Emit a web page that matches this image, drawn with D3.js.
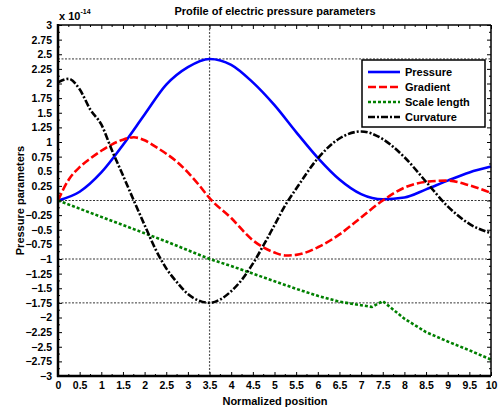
<!DOCTYPE html>
<html>
<head>
<meta charset="utf-8">
<script src="https://cdn.jsdelivr.net/npm/d3@7"></script>
<style>
  html, body { margin: 0; padding: 0; background: #fff; }
  svg { display: block; font-family: "Liberation Sans", Arial, sans-serif; }
  text { font-weight: bold; fill: #000; }
</style>
</head>
<body>
<svg id="chart" width="498" height="408"></svg>
<script>
// Normalized position samples (x) and profile values in units of 1e-14
const pressureX = [0, 0.5, 1, 1.5, 2, 2.5, 3, 3.5, 4, 4.5, 5, 5.5, 6, 6.5, 7, 7.5, 8, 8.5, 9, 9.5, 10];
const pressure  = [0, 0.15, 0.48, 0.95, 1.47, 1.98, 2.28, 2.42, 2.32, 2.02, 1.63, 1.17, 0.73, 0.36, 0.11, 0.02, 0.05, 0.19, 0.34, 0.48, 0.58];

const gradientX = [0, 0.25, 0.5, 0.75, 1, 1.25, 1.5, 1.75, 2, 2.25, 2.5, 2.75, 3, 3.25, 3.5, 4, 4.5, 5, 5.25, 5.5, 6, 6.5, 7, 7.5, 8, 8.5, 9, 9.5, 10];
const gradient  = [0, 0.36, 0.57, 0.72, 0.85, 0.96, 1.04, 1.08, 1.03, 0.92, 0.8, 0.66, 0.48, 0.27, 0.04, -0.3, -0.68, -0.89, -0.94, -0.93, -0.8, -0.58, -0.29, 0.0, 0.22, 0.32, 0.34, 0.26, 0.13];

const scaleX = [0, 0.5, 1, 1.5, 2, 2.5, 3, 3.5, 4, 4.5, 5, 5.5, 6, 6.5, 7, 7.25, 7.5, 8, 8.5, 9, 9.5, 10];
const scaleLength = [0, -0.14, -0.28, -0.42, -0.56, -0.7, -0.85, -1.0, -1.12, -1.25, -1.38, -1.51, -1.63, -1.73, -1.79, -1.82, -1.72, -2.02, -2.25, -2.41, -2.56, -2.72];

const curvatureX = [0, 0.25, 0.5, 0.75, 1, 1.25, 1.5, 1.75, 2, 2.25, 2.5, 2.75, 3, 3.25, 3.5, 3.75, 4, 4.25, 4.5, 4.75, 5, 5.25, 5.5, 6, 6.5, 7, 7.5, 8, 8.5, 9, 9.5, 10];
const curvature  = [2.02, 2.08, 1.9, 1.55, 1.3, 0.85, 0.43, 0.0, -0.42, -0.83, -1.16, -1.4, -1.6, -1.71, -1.75, -1.69, -1.55, -1.35, -1.08, -0.76, -0.42, -0.08, 0.2, 0.72, 1.06, 1.18, 1.05, 0.74, 0.32, -0.1, -0.4, -0.56];

const seriesNames = ["Pressure", "Gradient", "Scale length", "Curvature"];
const seriesColors = ["#0000ff", "#ff0000", "#008000", "#000000"];
const seriesDash = [null, "8,3", "3,2", "7,2,2,2"];

// Reference lines (data units)
const refY = [2.42, 0, -1, -1.75];
const refX = [3.5];

const xTickValues = d3.range(0, 10.01, 0.5);
const yTickValues = d3.range(-3, 3.001, 0.25);

const svg = d3.select("#chart");
const mLeft = 58, mRight = 491, mTop = 25, mBottom = 376;

const x = d3.scaleLinear().domain([0, 10]).range([mLeft, mRight]);
const y = d3.scaleLinear().domain([-3, 3]).range([mBottom, mTop]);

// Dashed reference lines
const g = svg.append("g");
refY.forEach(v => {
  g.append("line").attr("x1", mLeft).attr("x2", mRight).attr("y1", y(v)).attr("y2", y(v))
    .attr("stroke", "#000").attr("stroke-width", 0.8).attr("stroke-dasharray", "2,1.5");
});
refX.forEach(v => {
  g.append("line").attr("x1", x(v)).attr("x2", x(v)).attr("y1", mTop).attr("y2", mBottom)
    .attr("stroke", "#555").attr("stroke-width", 1.2).attr("stroke-dasharray", "2,1.5");
});

// Curves
const data = [
  pressureX.map((d, i) => [d, pressure[i]]),
  gradientX.map((d, i) => [d, gradient[i]]),
  scaleX.map((d, i) => [d, scaleLength[i]]),
  curvatureX.map((d, i) => [d, curvature[i]])
];
const lineGen = d3.line().x(d => x(d[0])).y(d => y(d[1])).curve(d3.curveMonotoneX);
const scaleLine = d3.line().x(d => x(d[0])).y(d => y(d[1]));
data.forEach((pts, i) => {
  svg.append("path").datum(pts)
    .attr("d", i === 2 ? scaleLine : lineGen)
    .attr("fill", "none")
    .attr("stroke", seriesColors[i])
    .attr("stroke-width", 2.6)
    .attr("stroke-dasharray", seriesDash[i]);
});

// Axes with inward ticks
const minorX = d3.range(0.25, 10, 0.5);
const minorY = d3.range(-2.875, 3, 0.25);
const tickFont = "Liberation Sans, Arial, sans-serif";

const xAxisB = d3.axisBottom(x).tickValues(xTickValues).tickSizeInner(-4).tickSizeOuter(0)
  .tickFormat(d => d3.format("~g")(d)).tickPadding(6);
const gx = svg.append("g").attr("transform", `translate(0,${mBottom})`).call(xAxisB);
gx.select(".domain").remove();
gx.selectAll("text").attr("font-size", 10.5).attr("font-weight", "bold").attr("fill", "#000")
  .attr("font-family", tickFont);

const xAxisT = d3.axisTop(x).tickValues(xTickValues).tickSizeInner(-4).tickSizeOuter(0).tickFormat("");
const gxt = svg.append("g").attr("transform", `translate(0,${mTop})`).call(xAxisT);
gxt.select(".domain").remove();

const yAxisL = d3.axisLeft(y).tickValues(yTickValues).tickSizeInner(-4).tickSizeOuter(0)
  .tickFormat(d => d3.format("~g")(d)).tickPadding(6);
const gy = svg.append("g").attr("transform", `translate(${mLeft},0)`).call(yAxisL);
gy.select(".domain").remove();
gy.selectAll("text").attr("font-size", 10.5).attr("font-weight", "bold").attr("fill", "#000")
  .attr("font-family", tickFont);

const yAxisR = d3.axisRight(y).tickValues(yTickValues).tickSizeInner(-4).tickSizeOuter(0).tickFormat("");
const gyr = svg.append("g").attr("transform", `translate(${mRight},0)`).call(yAxisR);
gyr.select(".domain").remove();

// Minor ticks
minorX.forEach(v => {
  svg.append("line").attr("x1", x(v)).attr("x2", x(v)).attr("y1", mBottom).attr("y2", mBottom - 2).attr("stroke", "#000");
  svg.append("line").attr("x1", x(v)).attr("x2", x(v)).attr("y1", mTop).attr("y2", mTop + 2).attr("stroke", "#000");
});
minorY.forEach(v => {
  svg.append("line").attr("x1", mLeft).attr("x2", mLeft + 2).attr("y1", y(v)).attr("y2", y(v)).attr("stroke", "#000");
  svg.append("line").attr("x1", mRight).attr("x2", mRight - 2).attr("y1", y(v)).attr("y2", y(v)).attr("stroke", "#000");
});
svg.selectAll(".tick line").attr("stroke", "#000").attr("stroke-width", 1);

// Frame
svg.append("line").attr("x1", mLeft).attr("x2", mLeft).attr("y1", mTop - 1).attr("y2", mBottom + 1).attr("stroke", "#000").attr("stroke-width", 2.5);
svg.append("line").attr("x1", mLeft - 1).attr("x2", mRight).attr("y1", mBottom).attr("y2", mBottom).attr("stroke", "#000").attr("stroke-width", 2.5);
svg.append("line").attr("x1", mLeft).attr("x2", mRight).attr("y1", mTop).attr("y2", mTop).attr("stroke", "#000").attr("stroke-width", 1.5);
svg.append("line").attr("x1", mRight).attr("x2", mRight).attr("y1", mTop).attr("y2", mBottom).attr("stroke", "#000").attr("stroke-width", 1.5);

// Exponent label
const exp = svg.append("text").attr("x", mLeft + 1).attr("y", 20).attr("font-size", 11);
exp.append("tspan").text("x 10");
exp.append("tspan").attr("dy", -6).attr("font-size", 7).text("-14");

// Title and axis labels
svg.append("text").attr("x", 275).attr("y", 15).attr("text-anchor", "middle").attr("font-size", 11)
  .text("Profile of electric pressure parameters");
svg.append("text").attr("x", 275).attr("y", 405).attr("text-anchor", "middle").attr("font-size", 11)
  .text("Normalized position");
svg.append("text").attr("transform", `translate(24,${(mTop + mBottom) / 2}) rotate(-90)`)
  .attr("text-anchor", "middle").attr("font-size", 11).text("Pressure parameters");

// Legend
const lg = svg.append("g").attr("transform", "translate(362,60)");
lg.append("rect").attr("width", 123).attr("height", 67).attr("fill", "#fff").attr("stroke", "#000").attr("stroke-width", 1.5);
seriesNames.forEach((name, i) => {
  const yy = 12 + i * 15;
  lg.append("line").attr("x1", 6).attr("x2", 38).attr("y1", yy).attr("y2", yy)
    .attr("stroke", seriesColors[i]).attr("stroke-width", 2.6).attr("stroke-dasharray", seriesDash[i]);
  lg.append("text").attr("x", 43).attr("y", yy + 4).attr("font-size", 11).text(name);
});
</script>
</body>
</html>
